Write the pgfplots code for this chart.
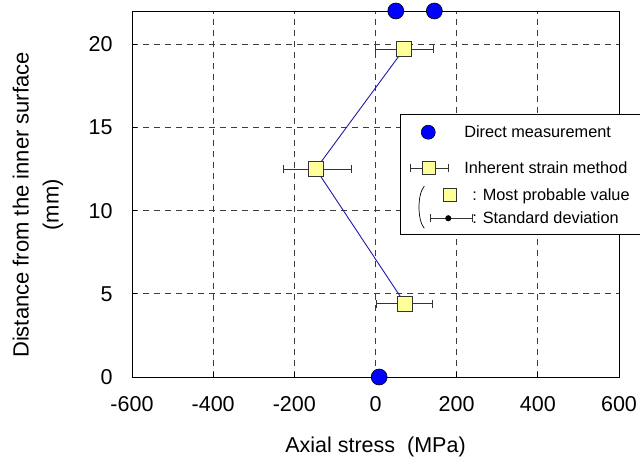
\documentclass[border=0pt]{standalone}
\usepackage{fontspec}
\setmainfont{Liberation Sans}
\usepackage{pgfplots}
\pgfplotsset{compat=1.18}
\definecolor{dirBlue}{HTML}{0000FF}
\definecolor{lineBlue}{HTML}{1C1CA8}
\definecolor{sqYellow}{HTML}{FFFF99}
\definecolor{gridGray}{HTML}{3C3C3C}

\begin{document}
\begin{tikzpicture}
\begin{axis}[
  width=487pt, height=366pt, scale only axis,
  xmin=-600, xmax=600, ymin=0, ymax=22,
  xtick={-600,-400,...,600}, ytick={0,5,...,20},
  xtick pos=bottom, ytick pos=left,
  tick align=inside, major tick length=5pt,
  grid=major,
  grid style={gridGray, dash pattern=on 6pt off 5pt, line width=0.7pt},
  axis line style={line width=0.9pt},
  tick style={black, line width=0.8pt},
  clip=false,
  /pgf/number format/assume math mode=true,
  tick label style={font=\fontsize{21.5}{25}\selectfont},
  xticklabel style={yshift=-16pt},
  yticklabel style={xshift=-16pt},
  xlabel={Axial stress\ \ (MPa)},
  xlabel style={at={(axis description cs:0.5,0)}, anchor=base, yshift=-76pt,
    font=\fontsize{21.5}{25}\selectfont},
  ylabel={Distance from the inner surface\\(mm)},
  ylabel style={at={(axis description cs:-0.193,0.47)}, anchor=center,
    align=center, font=\fontsize{22}{30}\selectfont},
  legend style={at={(rel axis cs:0.55,0.719)}, anchor=north west,
    draw=black, line width=0.8pt, fill=white,
    font=\fontsize{16.3}{19}\selectfont, inner sep=1pt, row sep=0pt},
  legend cell align=left,
]
% inherent strain method: most probable value with standard deviation
\addplot[forget plot, lineBlue, line width=0.9pt,
  mark=square*, mark size=7.5pt,
  mark options={fill=sqYellow, draw=black!80, line width=0.6pt, solid},
  error bars/.cd, x dir=both, x explicit, error mark=|,
  error bar style={black!80, line width=0.8pt},
  error mark options={black!80, line width=0.8pt, mark size=4pt}]
  coordinates {
    (70,19.7)   -= (70,0) += (73,0)
    (-147,12.5) -= (81,0) += (87,0)
    (73,4.4)    -= (70,0) += (67,0)
  };
% direct measurement
\addplot[forget plot, only marks, mark=*, mark size=8pt,
  mark options={fill=dirBlue, draw=black, line width=0.6pt}]
  coordinates {(50,22) (145,22) (9,0)};

\addlegendimage{legend image code/.code={
  \path[draw=none, fill=none] (-9pt,-18pt) rectangle (52pt,17pt);
  \draw[black, fill=dirBlue, line width=0.6pt] (18pt,0pt) circle (7pt);}}
\addlegendentry{Direct measurement}
\addlegendimage{legend image code/.code={
  \path[draw=none, fill=none] (-9pt,-13.5pt) rectangle (52pt,18pt);
  \draw[black!80, line width=0.8pt] (0pt,0pt) -- (38pt,0pt)
    (0pt,-4pt) -- (0pt,4pt) (38pt,-4pt) -- (38pt,4pt);
  \draw[black!80, fill=sqYellow, line width=0.6pt] (12.5pt,-6.5pt) rectangle (25.5pt,6.5pt);}}
\addlegendentry{Inherent strain method}
\addlegendimage{legend image code/.code={
  \path[draw=none, fill=none] (-9pt,-11.5pt) rectangle (52pt,13.5pt);
  \draw[black!80, fill=sqYellow, line width=0.6pt] (33.5pt,-6.5pt) rectangle (46.5pt,6.5pt);
  \draw[overlay, black, line width=0.7pt] (14pt,9pt) .. controls (7pt,1pt) and (7pt,-25pt) .. (14pt,-33pt);}}
\addlegendentry{\hspace{8pt}: Most probable value\hspace*{24pt}\mbox{}}
\addlegendimage{legend image code/.code={
  \path[draw=none, fill=none] (-9pt,-15pt) rectangle (52pt,11.5pt);
  \draw[overlay, black!80, line width=0.8pt] (20pt,0pt) -- (62pt,0pt)
    (20pt,-4pt) -- (20pt,4pt) (62pt,-4pt) -- (62pt,4pt);
  \fill[overlay, black] (38pt,0pt) circle (2.6pt);}}
\addlegendentry{\hspace{8pt}: Standard deviation}
\end{axis}
\pgfresetboundingbox
\useasboundingbox ([xshift=-132pt,yshift=-88pt]current axis.south west)
  rectangle ([xshift=21pt,yshift=11pt]current axis.north east);
\end{tikzpicture}
\end{document}
